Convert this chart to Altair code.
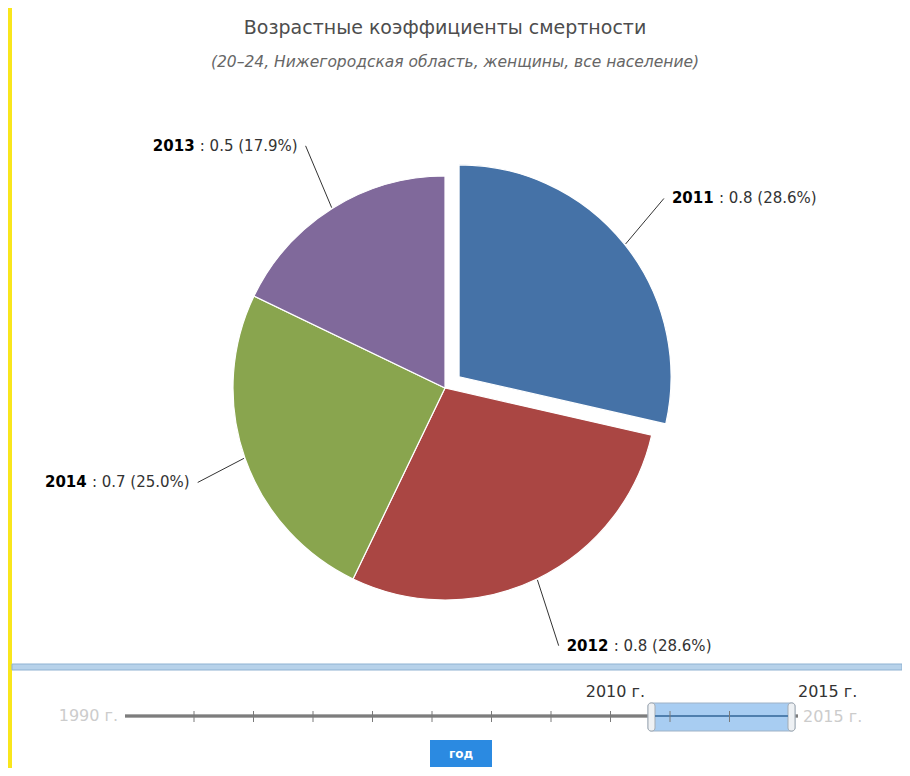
import math
import altair as alt
import pandas as pd

# ---------------- data ----------------
years = ["2011", "2012", "2014", "2013"]
values = [0.8, 0.8, 0.7, 0.5]
exploded = [1, 0, 0, 0]
slice_colors = ["#4572A7", "#AA4643", "#89A54E", "#80699B"]

title_text = "Возрастные коэффициенты смертности"
subtitle_text = "(20–24, Нижегородская область, женщины, все население)"

slider_start_label = "1990 г."
slider_end_label = "2015 г."
sel_from_label = "2010 г."
sel_to_label = "2015 г."
slider_ticks = list(range(1, 11))
button_label = "год"

df = pd.DataFrame({
    "year": years,
    "value": values,
    "exploded": exploded,
    "order": list(range(len(years))),
})

# ---------------- layout / style ----------------
W, H = 894, 760
OX, OY = 8, 8
FONT = "DejaVu Sans"


def px(x):
    return x - OX


def py(y):
    return y - OY


CX, CY = px(445), py(388)
R = 212
EXPLODE = 18
RX, RY = 262, 286

one = alt.Data(values=[{}])

base = alt.Chart(df).transform_joinaggregate(
    total="sum(value)"
).transform_window(
    cum="sum(value)", sort=[alt.SortField("order", order="ascending")], frame=[None, 0]
).transform_calculate(
    start="(datum.cum - datum.value) / datum.total",
    end="datum.cum / datum.total",
    mid="PI * (2 * datum.cum - datum.value) / datum.total",
    pct="100 * datum.value / datum.total",
).transform_calculate(
    cx=f"{CX} + datum.exploded * {EXPLODE} * sin(datum.mid)",
    cy=f"{CY} - datum.exploded * {EXPLODE} * cos(datum.mid)",
).transform_calculate(
    ex1=f"datum.cx + {R + 1} * sin(datum.mid)",
    ey1=f"datum.cy - {R + 1} * cos(datum.mid)",
    ex2=f"datum.cx + {RX} * sin(datum.mid)",
    ey2=f"datum.cy - {RY} * cos(datum.mid)",
    rest="': ' + format(datum.value, '.1f') + ' (' + format(datum.pct, '.1f') + '%)'",
)

XP = lambda f: alt.X(f, scale=None, axis=None)
YP = lambda f: alt.Y(f, scale=None, axis=None)

arcs = base.mark_arc(outerRadius=R, stroke="white", strokeWidth=1.2).encode(
    x=XP("cx:Q"),
    y=YP("cy:Q"),
    theta=alt.Theta("start:Q", stack=False,
                    scale=alt.Scale(domain=[0, 1], range=[0, 2 * math.pi])),
    theta2="end:Q",
    color=alt.Color("year:N", scale=alt.Scale(domain=years, range=slice_colors), legend=None),
)

conns = base.mark_rule(color="#333333", strokeWidth=1).encode(
    x=XP("ex1:Q"), y=YP("ey1:Q"), x2="ex2:Q", y2="ey2:Q"
)

right = base.transform_filter("sin(datum.mid) >= 0")
left = base.transform_filter("sin(datum.mid) < 0")

lab_kw = dict(baseline="middle", font=FONT, fontSize=15)
year_r = right.mark_text(align="left", dx=8, fontWeight="bold", color="#000000", **lab_kw).encode(
    x=XP("ex2:Q"), y=YP("ey2:Q"), text="year:N")
rest_r = right.mark_text(align="left", dx=8 + 47, color="#333333", **lab_kw).encode(
    x=XP("ex2:Q"), y=YP("ey2:Q"), text="rest:N")
rest_l = left.mark_text(align="right", dx=-8, color="#333333", **lab_kw).encode(
    x=XP("ex2:Q"), y=YP("ey2:Q"), text="rest:N")
year_l = left.mark_text(align="right", dx=-(8 + 103), fontWeight="bold", color="#000000", **lab_kw).encode(
    x=XP("ex2:Q"), y=YP("ey2:Q"), text="year:N")

# titles
title = alt.Chart(one).mark_text(font=FONT, fontSize=19, color="#4d4d4d", align="center",
                                 baseline="alphabetic").encode(
    x=alt.value(px(445)), y=alt.value(py(34)), text=alt.value(title_text))
subtitle = alt.Chart(one).mark_text(font=FONT, fontSize=15.5, fontStyle="italic", color="#666666",
                                    align="center", baseline="alphabetic").encode(
    x=alt.value(px(455)), y=alt.value(py(67)), text=alt.value(subtitle_text))

# yellow frame strip on the left
yellow = alt.Chart(one).mark_rect(color="#f9e61c").encode(
    x=alt.value(0), x2=alt.value(px(12)), y=alt.value(0), y2=alt.value(H))

# divider band
band = alt.Chart(one).mark_rect(fill="#b7d2ea", stroke="#8fb2d2", strokeWidth=1).encode(
    x=alt.value(px(12)), x2=alt.value(W), y=alt.value(py(664)), y2=alt.value(py(670)))

# slider
track_y = py(716)
track_outer = alt.Chart(one).mark_rule(color="#a8a8a8", strokeWidth=4).encode(
    x=alt.value(px(125)), x2=alt.value(px(798)), y=alt.value(track_y))
track_inner = alt.Chart(one).mark_rule(color="#6f6f6f", strokeWidth=1.5).encode(
    x=alt.value(px(125)), x2=alt.value(px(798)), y=alt.value(track_y))

handle = alt.Chart(one).mark_rect(fill="#a8cdf2", stroke="#9fb2c6", strokeWidth=1, cornerRadius=3).encode(
    x=alt.value(px(648)), x2=alt.value(px(795)), y=alt.value(py(703)), y2=alt.value(py(731)))
cap_l = alt.Chart(one).mark_rect(fill="#eef1f4", stroke="#a3abb3", strokeWidth=1, cornerRadius=3).encode(
    x=alt.value(px(648)), x2=alt.value(px(655)), y=alt.value(py(703)), y2=alt.value(py(731)))
cap_r = alt.Chart(one).mark_rect(fill="#eef1f4", stroke="#a3abb3", strokeWidth=1, cornerRadius=3).encode(
    x=alt.value(px(788)), x2=alt.value(px(795)), y=alt.value(py(703)), y2=alt.value(py(731)))
handle_line = alt.Chart(one).mark_rule(color="#4f7fae", strokeWidth=2).encode(
    x=alt.value(px(655)), x2=alt.value(px(788)), y=alt.value(track_y))

ticks_df = pd.DataFrame({"t": slider_ticks})
ticks = alt.Chart(ticks_df).mark_rule(color="#7a7a7a", strokeWidth=1).encode(
    x=alt.X("t:Q", axis=None, scale=alt.Scale(domain=[0, 10], range=[px(134.5), px(729.5)])),
    y=alt.value(py(711)), y2=alt.value(py(722)))

sl_kw = dict(font=FONT, fontSize=16, baseline="middle")
t_start = alt.Chart(one).mark_text(align="right", color="#cccccc", **sl_kw).encode(
    x=alt.value(px(118)), y=alt.value(py(716)), text=alt.value(slider_start_label))
t_end = alt.Chart(one).mark_text(align="left", color="#cccccc", **sl_kw).encode(
    x=alt.value(px(803)), y=alt.value(py(717)), text=alt.value(slider_end_label))
t_from = alt.Chart(one).mark_text(align="right", color="#333333", **sl_kw).encode(
    x=alt.value(px(645)), y=alt.value(py(692)), text=alt.value(sel_from_label))
t_to = alt.Chart(one).mark_text(align="left", color="#333333", **sl_kw).encode(
    x=alt.value(px(798)), y=alt.value(py(692)), text=alt.value(sel_to_label))

button = alt.Chart(one).mark_rect(fill="#2b8ae1").encode(
    x=alt.value(px(430)), x2=alt.value(px(492)), y=alt.value(py(740)), y2=alt.value(py(767)))
button_t = alt.Chart(one).mark_text(font=FONT, fontSize=12, fontWeight="bold", color="white",
                                    align="center", baseline="middle").encode(
    x=alt.value(px(461)), y=alt.value(py(754)), text=alt.value(button_label))

chart = alt.layer(
    yellow, band, title, subtitle,
    arcs, conns, year_r, rest_r, rest_l, year_l,
    track_outer, track_inner, handle, cap_l, cap_r, handle_line, ticks,
    t_start, t_end, t_from, t_to, button, button_t,
).resolve_scale(x="independent", y="independent").properties(
    width=W, height=H, padding=0, autosize="none", background="white"
).configure_view(stroke=None)

chart.save("out.html", embed_options={"renderer": "svg", "actions": False})
